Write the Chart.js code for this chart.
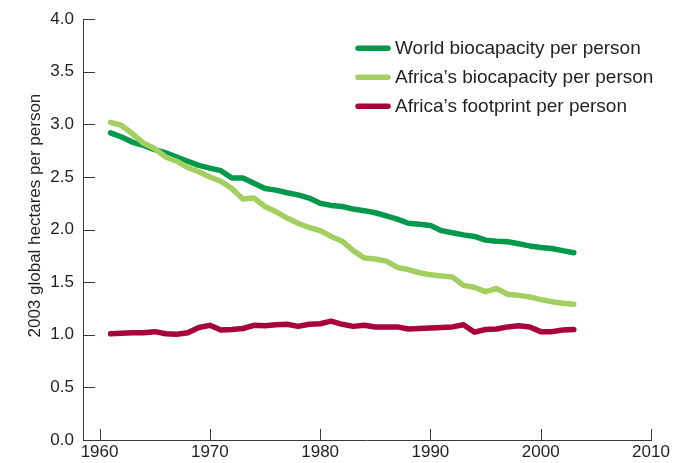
<!DOCTYPE html>
<html>
<head>
<meta charset="utf-8">
<script src="https://cdn.jsdelivr.net/npm/chart.js@4"></script>
<style>
  html, body { margin: 0; padding: 0; background: #ffffff; }
  #wrap { width: 673px; height: 463px; position: relative; }
</style>
</head>
<body>
<div id="wrap"><canvas id="c" width="673" height="463"></canvas></div>
<script>
const years = [1961,1962,1963,1964,1965,1966,1967,1968,1969,1970,1971,1972,1973,1974,1975,1976,1977,1978,1979,1980,1981,1982,1983,1984,1985,1986,1987,1988,1989,1990,1991,1992,1993,1994,1995,1996,1997,1998,1999,2000,2001,2002,2003];
const worldBiocapacity = [2.92,2.88,2.83,2.80,2.76,2.73,2.69,2.65,2.61,2.585,2.56,2.49,2.49,2.44,2.39,2.375,2.35,2.33,2.30,2.25,2.23,2.22,2.195,2.18,2.16,2.13,2.10,2.06,2.05,2.04,1.99,1.97,1.95,1.935,1.90,1.89,1.885,1.865,1.845,1.83,1.82,1.80,1.78];
const africaBiocapacity = [3.02,2.99,2.91,2.82,2.77,2.69,2.65,2.59,2.55,2.50,2.46,2.39,2.29,2.30,2.22,2.17,2.11,2.06,2.02,1.99,1.935,1.89,1.80,1.73,1.72,1.70,1.64,1.62,1.59,1.57,1.56,1.55,1.47,1.45,1.41,1.44,1.385,1.375,1.36,1.335,1.315,1.30,1.29];
const africaFootprint = [1.01,1.015,1.02,1.02,1.03,1.01,1.005,1.02,1.07,1.09,1.045,1.05,1.06,1.09,1.085,1.095,1.10,1.08,1.10,1.105,1.13,1.10,1.08,1.09,1.075,1.075,1.075,1.055,1.06,1.065,1.07,1.075,1.095,1.025,1.05,1.055,1.075,1.085,1.075,1.03,1.03,1.045,1.05];
const seriesLabels = ["World biocapacity per person", "Africa\u2019s biocapacity per person", "Africa\u2019s footprint per person"];
const seriesColors = ["#00984b", "#a2cf5f", "#a8023a"];
const xTicks = [1960,1970,1980,1990,2000,2010];
const yTicks = [0,0.5,1.0,1.5,2.0,2.5,3.0,3.5,4.0];
const yAxisTitle = "2003 global hectares per person";

const FONT = "'Liberation Sans', Arial, Helvetica, sans-serif";
const TEXT = "#231f20";
const AXIS = "#3a3a3a";

function pts(vals) { return years.map((y, i) => ({ x: y, y: vals[i] })); }

const allSeries = [worldBiocapacity, africaBiocapacity, africaFootprint];
const drawOrder = [1, 0, 2];

const innerTicks = {
  id: 'innerTicks',
  afterDraw(chart) {
    const ctx = chart.ctx, a = chart.chartArea;
    const xs = chart.scales.x, ys = chart.scales.y;
    ctx.save();
    ctx.strokeStyle = AXIS;
    ctx.lineWidth = 1;
    ctx.beginPath();
    yTicks.forEach(v => {
      const py = Math.round(ys.getPixelForValue(v)) + 0.5;
      ctx.moveTo(a.left, py); ctx.lineTo(a.left + 12, py);
    });
    xTicks.forEach(v => {
      const px = Math.round(xs.getPixelForValue(v)) + 0.5;
      ctx.moveTo(px, a.bottom); ctx.lineTo(px, a.bottom - 11);
    });
    ctx.stroke();
    // y axis title
    ctx.fillStyle = TEXT;
    ctx.font = "17px " + FONT;
    ctx.textAlign = 'center';
    ctx.textBaseline = 'alphabetic';
    ctx.translate(40, (a.top + a.bottom) / 2 - 14);
    ctx.rotate(-Math.PI / 2);
    ctx.fillText(yAxisTitle, 0, 0);
    ctx.restore();
  }
};

const insideLegend = {
  id: 'insideLegend',
  afterDraw(chart) {
    const ctx = chart.ctx, a = chart.chartArea;
    const x0 = a.right - 293;
    ctx.save();
    ctx.font = "19px " + FONT;
    ctx.textBaseline = 'middle';
    ctx.textAlign = 'left';
    seriesLabels.forEach((lab, i) => {
      const y = a.top + 29 + i * 29;
      ctx.strokeStyle = seriesColors[i];
      ctx.lineWidth = 5.5;
      ctx.lineCap = 'round';
      ctx.beginPath();
      ctx.moveTo(x0, y); ctx.lineTo(x0 + 30, y);
      ctx.stroke();
      ctx.fillStyle = TEXT;
      ctx.fillText(lab, x0 + 37, y + 1);
    });
    ctx.restore();
  }
};

new Chart(document.getElementById('c'), {
  type: 'line',
  data: {
    datasets: allSeries.map((vals, i) => ({
      label: seriesLabels[i],
      data: pts(vals),
      borderColor: seriesColors[i],
      backgroundColor: seriesColors[i],
      borderWidth: 5.5,
      borderCapStyle: 'round',
      borderJoinStyle: 'round',
      pointRadius: 0,
      tension: 0,
      fill: false,
      order: drawOrder[i]
    }))
  },
  options: {
    responsive: false,
    animation: false,
    devicePixelRatio: 1,
    layout: { padding: { top: 16, right: 22, left: 0, bottom: 0 } },
    plugins: { legend: { display: false }, tooltip: { enabled: false }, title: { display: false } },
    scales: {
      x: {
        type: 'linear',
        min: 1958.5,
        max: 2010,
        afterBuildTicks(s) { s.ticks = xTicks.map(v => ({ value: v })); },
        afterFit(s) { s.height = 23; },
        grid: { display: false, drawTicks: false },
        border: { display: true, color: AXIS, width: 1 },
        ticks: {
          padding: 2,
          color: TEXT,
          font: { family: FONT, size: 17 },
          maxRotation: 0,
          autoSkip: false,
          callback: v => String(v)
        }
      },
      y: {
        min: 0,
        max: 4,
        afterBuildTicks(s) { s.ticks = yTicks.map(v => ({ value: v })); },
        afterFit(s) { s.width = 83; },
        grid: { display: false, drawTicks: false },
        border: { display: true, color: AXIS, width: 1 },
        ticks: {
          padding: 9,
          color: TEXT,
          font: { family: FONT, size: 17 },
          callback: v => Number(v).toFixed(1)
        }
      }
    }
  },
  plugins: [innerTicks, insideLegend]
});
</script>
</body>
</html>
